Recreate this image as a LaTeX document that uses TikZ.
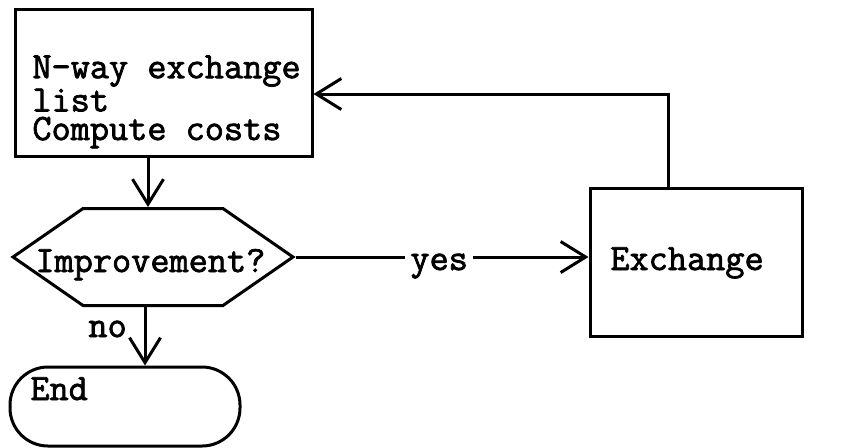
\documentclass[tikz,border=0pt]{standalone}
\usepackage{fontspec}
\setmonofont[FakeBold=2]{Latin Modern Mono}
\usetikzlibrary{arrows.meta,shapes.symbols,calc}
\tikzset{
  every node/.style={font=\ttfamily\fontsize{18.6}{14.3}\selectfont},
  box/.style={draw, line width=1.5pt, inner sep=0pt},
  lbl/.style={inner sep=0pt, anchor=base west},
  flow/.style={line width=1.5pt, -{Straight Barb[length=12.5pt,width=15.5pt,line width=1.5pt]}},
  plain/.style={line width=1.5pt},
}
\begin{document}
\begin{tikzpicture}[x=0.5pt,y=-0.5pt]
\useasboundingbox (0,0) rectangle (845,447);
% boxes
\node[box, minimum width=148.5pt, minimum height=73.5pt] (list) at (163.5,82.5) {};
\node[box, signal, signal to=east and west, signal pointer angle=69.4,
      minimum width=140pt, minimum height=48.5pt] (hex) at (153,257) {};
\node[box, rounded corners=19pt, minimum width=115pt, minimum height=39.5pt] (end) at (125,406.5) {};
\node[box, minimum width=106pt, minimum height=74pt] (exch) at (696,262) {};
% texts (a multi-line node sits on the baseline of its last line)
\node[lbl, align=left] (listtxt) at (32,140) {N-way exchange\\list\\Compute costs};
\node[lbl] (imptxt) at (35,272) {Improvement?};
\node[lbl] (endtxt) at (30,400) {End};
\node[lbl] (extxt) at (610,270) {Exchange};
\node[lbl] (no) at (88,337) {no};
\node[lbl, inner sep=2.5pt] (yes) at (405,270) {yes};
% helper points for the connectors
\coordinate (c1) at (148,0);
\coordinate (c2) at (145,0);
\coordinate (fb) at (668,94);
% connectors
\draw[flow] (list.south -| c1) -- (hex.north -| c1);
\draw[flow] (hex.south -| c2) -- (end.north -| c2);
\draw[plain] (hex.east) -- (hex.east -| yes.west);
\draw[flow] (hex.east -| yes.east) -- (hex.east -| exch.west);
\draw[flow] (exch.north -| fb) -- (fb) -- (fb -| list.east);
\end{tikzpicture}
\end{document}
